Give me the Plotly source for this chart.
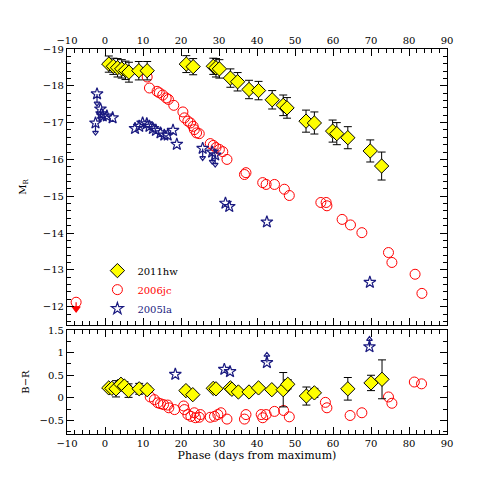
import plotly.graph_objects as go

# SN 2011hw, R-band absolute magnitude
hw_phase = [1.0, 2.2, 3.3, 4.4, 5.4, 6.3, 8.9, 11.1, 21.4, 23.2, 28.5, 29.2, 30.1, 33.0, 34.9,
            37.9, 40.4, 44.0, 46.9, 47.9, 52.9, 55.1, 59.9, 61.0, 63.9, 69.8, 72.8]
hw_mr = [-18.59, -18.53, -18.49, -18.46, -18.42, -18.37, -18.41, -18.41, -18.59, -18.52, -18.53,
         -18.49, -18.46, -18.21, -18.11, -17.90, -17.87, -17.62, -17.47, -17.40, -17.04, -16.99,
         -16.77, -16.70, -16.59, -16.23, -15.82]
hw_mr_err = [0.22, 0.22, 0.25, 0.25, 0.25, 0.27, 0.25, 0.25, 0.23, 0.22, 0.22, 0.25, 0.25, 0.25,
             0.25, 0.25, 0.25, 0.25, 0.28, 0.28, 0.30, 0.30, 0.30, 0.30, 0.30, 0.30, 0.38]

# SN 2011hw, B-R colour
hw_br_phase = [1.0, 1.8, 2.9, 4.2, 5.1, 6.2, 9.0, 11.1, 21.3, 23.1, 28.5, 29.2, 33.0, 33.4, 35.1,
               37.9, 40.4, 43.9, 46.9, 48.1, 53.0, 55.1, 63.9, 70.0, 72.9]
hw_br = [0.22, 0.21, 0.20, 0.30, 0.26, 0.16, 0.20, 0.18, 0.16, 0.07, 0.21, 0.20, 0.22, 0.19, 0.13,
         0.13, 0.22, 0.18, 0.18, 0.30, 0.04, 0.11, 0.20, 0.33, 0.41]
hw_br_err = [0.05, 0.05, 0.18, 0.10, 0.10, 0.15, 0.12, 0.08, 0.08, 0.06, 0.06, 0.06, 0.06, 0.06,
             0.05, 0.05, 0.05, 0.05, 0.38, 0.10, 0.20, 0.10, 0.25, 0.17, 0.43]

# SN 2006jc
jc_phase = [11.1, 11.7, 13.7, 14.3, 15.2, 16.1, 16.7, 18.1, 20.5, 20.9, 21.8, 22.5, 23.2, 23.5,
            24.1, 24.8, 27.7, 28.5, 29.2, 30.1, 31.0, 32.1, 36.7, 37.1, 41.5, 42.4, 44.6, 47.2,
            48.5, 56.8, 58.2, 58.4, 62.4, 64.6, 67.6, 74.6, 75.5, 81.6, 83.4]
jc_mr = [-18.24, -17.94, -17.85, -17.81, -17.75, -17.67, -17.63, -17.47, -17.29, -17.13, -17.04,
         -16.99, -16.90, -16.81, -16.72, -16.70, -16.43, -16.38, -16.32, -16.27, -16.21, -16.00,
         -15.59, -15.64, -15.37, -15.32, -15.32, -15.19, -15.02, -14.83, -14.83, -14.74, -14.37,
         -14.22, -14.01, -13.47, -13.20, -12.88, -12.36]
jc_lim_phase = [-7.6]
jc_lim_mr = [-12.12]

jc_br_phase = [11.9, 13.0, 13.9, 14.6, 15.4, 16.5, 16.8, 18.3, 20.7, 20.9, 21.8, 22.6, 23.5, 23.8,
               24.8, 25.1, 27.7, 28.8, 29.7, 30.5, 32.1, 36.7, 37.1, 41.1, 41.5, 42.4, 44.6, 47.0,
               48.5, 58.0, 58.4, 64.5, 67.6, 74.6, 75.5, 81.4, 83.3]
jc_br = [0.02, -0.04, -0.11, -0.13, -0.15, -0.16, -0.22, -0.26, -0.18, -0.26, -0.37, -0.41, -0.33,
         -0.44, -0.43, -0.37, -0.43, -0.41, -0.37, -0.33, -0.47, -0.47, -0.37, -0.37, -0.44, -0.37,
         -0.30, -0.28, -0.42, -0.10, -0.22, -0.39, -0.33, 0.02, -0.12, 0.35, 0.31]

# SN 2005la (lim = 1 marks a limit drawn with an arrow)
la_phase = [-2.1, -2.5, -1.2, -0.9, -0.6, 0.5, 2.0, 7.9, 9.0, 9.9, 11.0, 11.7, 12.6, 13.4, 14.6,
            15.6, 16.5, 17.9, 18.9, 25.7, 28.2, 29.0, 31.7, 32.7, 42.6, 69.7]
la_mr = [-17.78, -16.99, -17.37, -17.24, -17.18, -17.18, -17.13, -16.84, -16.90, -16.99, -16.97,
         -16.90, -16.84, -16.79, -16.72, -16.66, -16.66, -16.79, -16.41, -16.30, -16.20, -16.12,
         -14.81, -14.72, -14.30, -12.66]
la_lim = [1, 1, 1, 0, 0, 0, 0, 0, 0, 0, 0, 0, 0, 0, 0, 0, 0, 0, 0, 1, 1, 1, 0, 0, 0, 0]

la_br_phase = [18.5, 31.4, 32.9, 42.6, 69.6]
la_br = [0.52, 0.63, 0.58, 0.78, 1.13]
la_br_lim = [0, 0, 0, 1, 1]

NAVY = "#1a1a80"
RED = "#ff0000"
FONT = "DejaVu Serif"


def limit_arrows(xs, ys, flags, length, color, head, head_size, xa, ya):
    # stems from each limit point plus an arrowhead at the far end
    sx, sy, hx, hy = [], [], [], []
    for p, v, f in zip(xs, ys, flags):
        if f:
            sx += [p, p, None]
            sy += [v, v + length, None]
            hx.append(p)
            hy.append(v + length)
    return [go.Scatter(x=sx, y=sy, mode="lines", line=dict(color=color, width=1.2),
                       showlegend=False, hoverinfo="skip", xaxis=xa, yaxis=ya),
            go.Scatter(x=hx, y=hy, mode="markers", showlegend=False, hoverinfo="skip",
                       marker=dict(symbol=head, size=head_size, color=color, line=dict(width=1.2, color=color)),
                       xaxis=xa, yaxis=ya)]


fig = go.Figure()

# top panel
for tr in limit_arrows(la_phase, la_mr, la_lim, 0.26, NAVY, "triangle-down-open", 5, "x", "y"):
    fig.add_trace(tr)
for tr in limit_arrows(jc_lim_phase, jc_lim_mr, [1] * len(jc_lim_phase), 0.17, RED, "triangle-down", 7, "x", "y"):
    fig.add_trace(tr)
fig.add_trace(go.Scatter(x=jc_phase, y=jc_mr, mode="markers", name='<span style="color:#ff0000">2006jc</span>',
                         marker=dict(symbol="circle-open", size=10, color=RED, line=dict(width=1)),
                         xaxis="x", yaxis="y", legendrank=2))
fig.add_trace(go.Scatter(x=jc_lim_phase, y=jc_lim_mr, mode="markers", showlegend=False,
                         marker=dict(symbol="circle-open", size=10, color=RED, line=dict(width=1)),
                         xaxis="x", yaxis="y"))
fig.add_trace(go.Scatter(x=la_phase, y=la_mr, mode="markers", name='<span style="color:#1a1a80">2005la</span>',
                         marker=dict(symbol="star-open", size=9, color=NAVY, line=dict(width=1.2)),
                         xaxis="x", yaxis="y", legendrank=3))
fig.add_trace(go.Scatter(x=hw_phase, y=hw_mr, mode="markers", name="2011hw",
                         error_y=dict(type="data", array=hw_mr_err, color="black", thickness=1, width=4),
                         marker=dict(symbol="diamond", size=11, color="#ffff00", line=dict(width=1, color="black")),
                         xaxis="x", yaxis="y", legendrank=1))

# bottom panel
for tr in limit_arrows(la_br_phase, la_br, la_br_lim, 0.17, NAVY, "triangle-up-open", 5, "x2", "y2"):
    fig.add_trace(tr)
fig.add_trace(go.Scatter(x=jc_br_phase, y=jc_br, mode="markers", showlegend=False,
                         marker=dict(symbol="circle-open", size=10, color=RED, line=dict(width=1)),
                         xaxis="x2", yaxis="y2"))
fig.add_trace(go.Scatter(x=la_br_phase, y=la_br, mode="markers", showlegend=False,
                         marker=dict(symbol="star-open", size=9, color=NAVY, line=dict(width=1.2)),
                         xaxis="x2", yaxis="y2"))
fig.add_trace(go.Scatter(x=hw_br_phase, y=hw_br, mode="markers", showlegend=False,
                         error_y=dict(type="data", array=hw_br_err, color="black", thickness=1, width=4),
                         marker=dict(symbol="diamond", size=11, color="#ffff00", line=dict(width=1, color="black")),
                         xaxis="x2", yaxis="y2"))

axis_common = dict(showline=True, linecolor="black", linewidth=1.2, ticks="inside", ticklen=7,
                   tickcolor="black", tickwidth=1, mirror="allticks", showgrid=False, zeroline=False,
                   tickfont=dict(family=FONT, size=10, color="black"))

fig.update_layout(
    width=479, height=479,
    margin=dict(l=59, r=40, t=41, b=53),
    plot_bgcolor="white", paper_bgcolor="white",
    xaxis=dict(axis_common, range=[-10, 90], dtick=10, side="top", anchor="y",
               minor=dict(dtick=2, ticklen=3.5, ticks="inside", tickcolor="black")),
    yaxis=dict(axis_common, range=[-11.5, -19], dtick=1, domain=[0.283, 1.0], anchor="x",
               minor=dict(dtick=0.2, ticklen=3.5, ticks="inside", tickcolor="black"),
               title=dict(text="M<sub>R</sub>", font=dict(family=FONT, size=10, color="black"), standoff=14)),
    xaxis2=dict(axis_common, range=[-10, 90], dtick=10, side="bottom", anchor="y2", matches="x",
                minor=dict(dtick=2, ticklen=3.5, ticks="inside", tickcolor="black"),
                title=dict(text="Phase (days from maximum)", font=dict(family=FONT, size=11, color="black"),
                           standoff=3)),
    yaxis2=dict(axis_common, range=[-0.8, 1.5], dtick=0.5, domain=[0.0, 0.27], anchor="x2",
                minor=dict(dtick=0.25, ticklen=3.5, ticks="inside", tickcolor="black"),
                title=dict(text="B\u2212R", font=dict(family=FONT, size=10, color="black"), standoff=8)),
    legend=dict(x=0.08, y=0.462, xanchor="left", yanchor="top", bgcolor="rgba(0,0,0,0)",
                font=dict(family=FONT, size=10, color="black"), tracegroupgap=0),
)

fig.write_html("out.html")
